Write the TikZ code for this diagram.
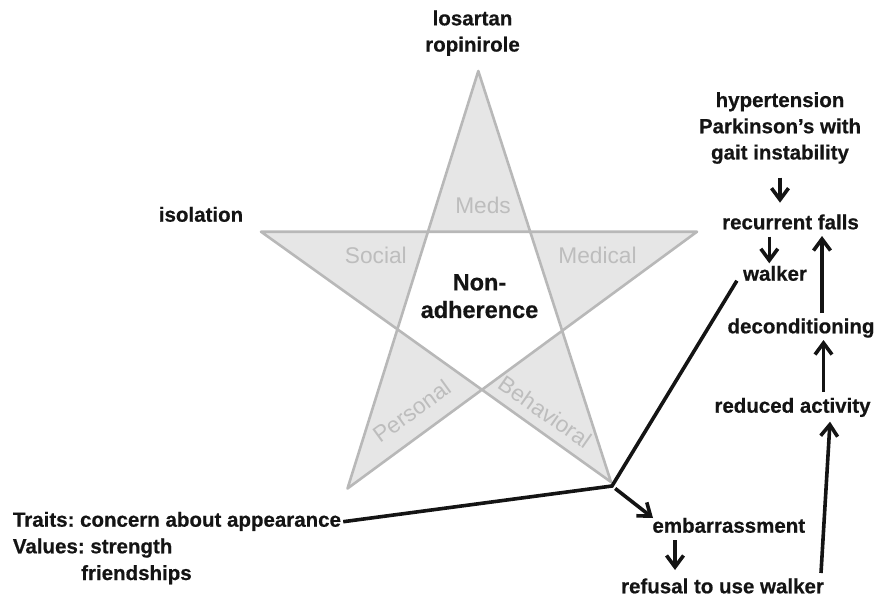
\documentclass[tikz,border=0pt]{standalone}
\usepackage{fontspec}
\setmainfont{Liberation Sans}[BoldFeatures={FakeBold=0.6}]
\usetikzlibrary{arrows.meta}
\definecolor{ink}{HTML}{141414}
\definecolor{armfill}{HTML}{E6E6E6}
\definecolor{armline}{HTML}{B8B8B8}
\definecolor{armtext}{HTML}{BDBDBD}
\frenchspacing
\begin{document}
\begin{tikzpicture}[x=1pt,y=-1pt,
  lab/.style={font=\fontsize{20.5}{26.2}\selectfont\bfseries, text=ink, inner sep=0pt, anchor=base},
  armlab/.style={font=\fontsize{22.7}{26}\selectfont, text=armtext, inner sep=0pt, anchor=base},
  link/.style={draw=ink, line width=3.6pt},
  arr/.style={link, -{Straight Barb[length=11.5pt,width=17pt]}},
]
\useasboundingbox (0,0) rectangle (890,597);

% the five-pointed star: arms shaded, central pentagon left white
\path[fill=armfill, draw=armline, line width=2.6pt, even odd rule, line join=round]
  (478.3,71) coordinate (tT) -- (347.5,488.5) coordinate (tBL)
  -- (697,231.7) coordinate (tR) -- (261,231.7) coordinate (tL)
  -- (611,482) coordinate (tBR) -- cycle;

% arm labels
\node[armlab] (meds) at (483,213.3) {Meds};
\node[armlab] (social) at (375.8,263.3) {Social};
\node[armlab] (medical) at (597.5,263.3) {Medical};
\node[armlab, anchor=center, rotate=36] (personal) at (411.7,411) {Personal};
\node[armlab, anchor=center, rotate=-35] (behav) at (545,412) {Behavioral};

% centre label
\node[font=\fontsize{23.5}{27.6}\selectfont\bfseries, text=ink, inner sep=0pt,
      align=center, anchor=north] (core) at (479.5,274) {Non-\\adherence};

% factors around the star
\node[lab, align=center, anchor=north] (drugs) at (472.5,10.3)
  {\fontsize{20.5}{24.3}\selectfont losartan\\ropinirole};
\node[lab] (isol) at (201,221.7) {isolation};
\node[lab, align=center, anchor=north] (hyp) at (780,92)
  {hypertension\\Parkinson’s with\\gait instability};
\node[lab] (falls) at (790.5,229.3) {recurrent falls};
\node[lab] (walker) at (775,280.7) {walker};
\node[lab] (decond) at (801,333.3) {deconditioning};
\node[lab] (reduced) at (792.5,412.7) {reduced activity};
\node[lab] (emb) at (728.8,532.7) {embarrassment};
\node[lab] (refusal) at (722.5,593.3) {refusal to use walker};
\node[lab, anchor=base west] (traits) at (12.7,526.7) {Traits: concern about appearance};
\node[lab, anchor=base west] (values) at (12.7,553.3) {Values: strength};
\node[lab, anchor=base west] (friends) at (81,580) {friendships};

% junction below the lower right point of the star
\coordinate (J) at (612,486);

% causal chain
\draw[arr] ([yshift=-13.7pt]hyp.south) -- ([xshift=-10.5pt,yshift=26.6pt]falls.base);
\draw[arr] ([xshift=-21.2pt,yshift=-7.4pt]falls.base) -- ([xshift=-5.7pt,yshift=17.4pt]walker.base);
\draw[arr] ([xshift=21pt,yshift=20.3pt]decond.base) -- ([xshift=31.5pt,yshift=-6.7pt]falls.base);
\draw[arr] ([xshift=31pt,yshift=20.7pt]reduced.base) -- ([xshift=22.5pt,yshift=-6.7pt]decond.base);
\draw[arr] ([xshift=98.5pt,yshift=20.3pt]refusal.base) -- ([xshift=37.5pt,yshift=-9pt]reduced.base);
\draw[arr] ([xshift=-53.8pt,yshift=-7.3pt]emb.base) -- ([xshift=-47.5pt,yshift=23.3pt]refusal.base);
\draw[arr, shorten <=4pt] (J) -- ([xshift=-75.8pt,yshift=14.7pt]emb.base);

% traits line and walker line meeting at the junction
\draw[link, line join=miter] ([xshift=2pt,yshift=5pt]traits.base east) -- (J)
  -- ([xshift=-6pt]walker.base west);
\end{tikzpicture}
\end{document}
